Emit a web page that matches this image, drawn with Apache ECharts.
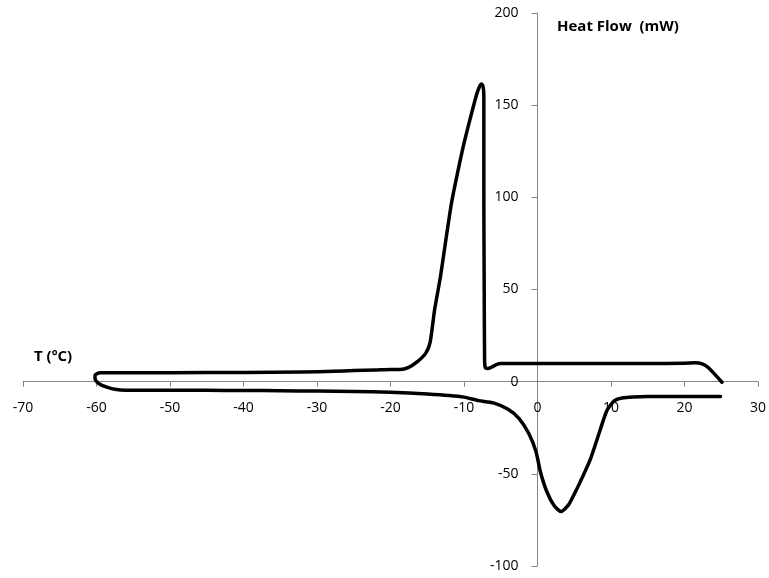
<!DOCTYPE html>
<html>
<head>
<meta charset="utf-8">
<script src="https://cdn.jsdelivr.net/npm/echarts@6/dist/echarts.min.js"></script>
<style>
  html, body { margin: 0; padding: 0; background: #fff; }
  #chart { width: 769px; height: 578px; }
</style>
</head>
<body>
<div id="chart"></div>
<script>
// DSC thermogram: cooling run (exotherm near -7 ºC) followed by heating run (endotherm near 3 ºC)
const coolT = [25.1, 24.0, 23.2, 22.4, 21.5, 20.0, 15, 10, 5, 0, -3, -5.0, -5.6, -6.3, -6.8, -7.1, -7.2, -7.25, -7.3, -7.3, -7.3, -7.4, -7.6, -7.9, -8.3, -9.2, -10.1, -11.0, -11.7, -12.4, -13.2, -14.0, -14.6, -15.2, -16.3, -17.6, -18.7, -20, -22, -25, -27.7, -32, -40, -50, -58, -59.5, -60.2, -60.2, -59.7, -58.6, -57.3, -56];
const coolQ = [-0.3, 4.5, 7.8, 9.6, 10.2, 10.0, 9.8, 9.8, 9.8, 9.8, 9.9, 9.8, 9.2, 7.8, 7.2, 7.6, 12, 50, 100, 140, 155, 160, 161.5, 160, 155.5, 142, 127.6, 111, 96.9, 78.8, 57, 39, 21.5, 15.5, 11, 7.6, 6.6, 6.6, 6.3, 6.0, 5.6, 5.2, 5.0, 4.9, 4.9, 4.8, 3.6, 1.5, -1.0, -3.0, -4.3, -4.6];
const heatT = [-50, -45, -40, -35, -30, -25, -20, -15, -12, -10, -8, -6, -4, -2.5, -1.2, -0.2, 0.4, 1.3, 2.3, 3.2, 4.2, 5.0, 5.8, 7.2, 8.5, 9.4, 10.4, 11.5, 13, 15, 20, 24.9];
const heatQ = [-4.6, -4.7, -4.8, -4.9, -5.1, -5.3, -5.7, -6.7, -7.5, -8.4, -10.3, -11.5, -15, -20, -28, -38, -49, -60, -67.5, -70.5, -67, -61, -54.5, -42, -26.5, -16, -10.5, -8.9, -8.3, -8.1, -8.1, -8.1];
const xTicks = { min: -70, max: 30, step: 10 };
const yTicks = { min: -100, max: 200, step: 50 };

const curve = coolT.map((t, i) => [t, coolQ[i]])
  .concat(heatT.map((t, i) => [t, heatQ[i]]));

const axisGray = '#868686';
const labelFont = { color: '#000', fontFamily: 'Open Sans', fontSize: 14 };
const gridBox = { left: 23, right: 11, top: 13, bottom: 12 };

const el = document.getElementById('chart');
const chart = echarts.init(el, null, { renderer: 'canvas' });
chart.setOption({
  animation: false,
  backgroundColor: '#fff',
  grid: Object.assign({ containLabel: false, outerBoundsMode: 'none' }, gridBox),
  xAxis: {
    type: 'value',
    min: xTicks.min, max: xTicks.max, interval: xTicks.step,
    axisLine: { onZero: false, lineStyle: { color: axisGray, width: 1 } },
    axisTick: { show: true, inside: false, length: 5, lineStyle: { color: axisGray } },
    axisLabel: Object.assign({ margin: 19, showMinLabel: true, showMaxLabel: true }, labelFont),
    splitLine: { show: false }
  },
  yAxis: {
    type: 'value',
    min: yTicks.min, max: yTicks.max, interval: yTicks.step,
    axisLine: { show: true, onZero: false, lineStyle: { color: axisGray, width: 1 } },
    axisTick: { show: true, inside: false, length: 6, lineStyle: { color: axisGray } },
    axisLabel: Object.assign({ margin: 19, showMinLabel: true, showMaxLabel: true }, labelFont),
    splitLine: { show: false }
  },
  graphic: [
    { type: 'text', left: 34, top: 349, style: { text: 'T (ºC)', fill: '#000', font: 'bold 15px "Open Sans"' } },
    { type: 'text', left: 557, top: 19, style: { text: 'Heat Flow  (mW)', fill: '#000', font: 'bold 15px "Open Sans"' } }
  ],
  series: [{
    type: 'line',
    data: curve,
    showSymbol: false,
    smooth: 0.2,
    lineStyle: { color: '#000', width: 3.5, cap: 'round', join: 'round' },
    z: 5
  }]
});

// Move both axes (line, ticks and labels) so they cross at the origin
const zeroX = chart.convertToPixel({ xAxisIndex: 0 }, 0);
const zeroY = chart.convertToPixel({ yAxisIndex: 0 }, 0);
const plotBottom = el.clientHeight - gridBox.bottom;
chart.setOption({
  xAxis: { offset: -(plotBottom - zeroY) },
  yAxis: { offset: -(zeroX - gridBox.left) }
});
</script>
</body>
</html>
